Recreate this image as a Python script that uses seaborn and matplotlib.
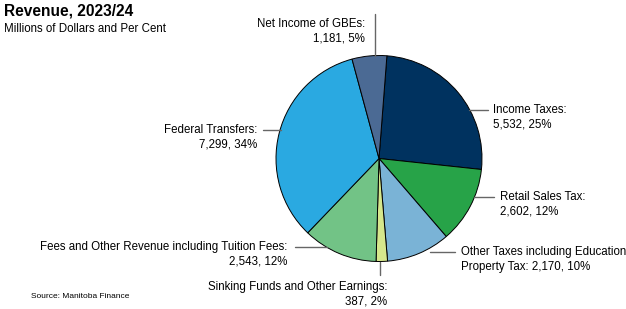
import matplotlib
matplotlib.use("Agg")
import matplotlib.pyplot as plt
import seaborn as sns
import numpy as np

categories = ["Income Taxes", "Retail Sales Tax", "Other Taxes including Education Property Tax",
              "Sinking Funds and Other Earnings", "Fees and Other Revenue including Tuition Fees",
              "Federal Transfers", "Net Income of GBEs"]
values = [5532, 2602, 2170, 387, 2543, 7299, 1181]
percents = [25, 12, 10, 2, 12, 34, 5]
label_texts = ["Income Taxes:\n5,532, 25%",
               "Retail Sales Tax:\n2,602, 12%",
               "Other Taxes including Education\nProperty Tax: 2,170, 10%",
               "Sinking Funds and Other Earnings:\n387, 2%",
               "Fees and Other Revenue including Tuition Fees:\n2,543, 12%",
               "Federal Transfers:\n7,299, 34%",
               "Net Income of GBEs:\n1,181, 5%"]
colors = ["#00325f", "#27a348", "#7ab3d6", "#d6e78c", "#72c386", "#2aa9e1", "#4b6a94"]

sns.set_theme(style="white")
plt.rcParams['font.family'] = ['Liberation Sans', 'DejaVu Sans']
plt.rcParams['text.color'] = 'black'

W, H = 626, 309
fig = plt.figure(figsize=(W / 100, H / 100), dpi=100)
ax = fig.add_axes([0, 0, 1, 1])

cx, cy, R = 379, 158.5, 103
def Y(y):
    return H - y

ax.pie(values, center=(cx, Y(cy)), radius=R, startangle=90 - 4.4, counterclock=False,
       colors=colors, wedgeprops=dict(edgecolor="black", linewidth=0.7))
ax.set_xlim(0, W)
ax.set_ylim(0, H)
ax.set_aspect('equal')
ax.axis('off')

lc = "#666666"
def edge_x(y, side):
    dy = cy - y
    return cx + side * np.sqrt(R ** 2 - dy ** 2)

fs = 8.3
ls = 1.3
tc = "black"
# Income Taxes
y = 110
ax.plot([edge_x(y, 1) - 1, 488], [Y(y), Y(y)], color=lc, lw=1)
ax.text(493, Y(y) + 6, label_texts[0], ha="left", va="top", fontsize=fs, linespacing=ls, color=tc)
# Retail Sales Tax
y = 197
ax.plot([edge_x(y, 1) - 1, 494], [Y(y), Y(y)], color=lc, lw=1)
ax.text(500, Y(y) + 6, label_texts[1], ha="left", va="top", fontsize=fs, linespacing=ls, color=tc)
# Other Taxes
y = 252
ax.plot([430, 455], [Y(y), Y(y)], color=lc, lw=1)
ax.text(461, Y(y) + 6, label_texts[2], ha="left", va="top", fontsize=fs, linespacing=ls, color=tc)
# Sinking Funds
ax.plot([380, 380], [Y(cy + R), Y(275)], color=lc, lw=1)
ax.text(387, Y(281), label_texts[3], ha="right", va="top", fontsize=fs, linespacing=ls,
        multialignment="right", color=tc)
# Fees
y = 247
ax.plot([295, edge_x(y, -1) + 1], [Y(y), Y(y)], color=lc, lw=1)
ax.text(287, Y(y) + 6, label_texts[4], ha="right", va="top", fontsize=fs, linespacing=ls,
        multialignment="right", color=tc)
# Federal Transfers
y = 130
ax.plot([263, edge_x(y, -1) + 1], [Y(y), Y(y)], color=lc, lw=1)
ax.text(257, Y(y) + 6, label_texts[5], ha="right", va="top", fontsize=fs, linespacing=ls,
        multialignment="right", color=tc)
# Net Income of GBEs
ax.plot([375, 375], [Y(14), Y(cy - np.sqrt(R ** 2 - 4 ** 2))], color=lc, lw=1)
ax.text(365, Y(18), label_texts[6], ha="right", va="top", fontsize=fs, linespacing=ls,
        multialignment="right", color=tc)

ax.text(4, Y(3), "Revenue, 2023/24", ha="left", va="top", fontsize=11.2, fontweight="bold", color=tc)
ax.text(4, Y(23), "Millions of Dollars and Per Cent", ha="left", va="top", fontsize=8.3, color=tc)
ax.text(31, Y(293), "Source: Manitoba Finance", ha="left", va="top", fontsize=6, color=tc)

fig.savefig("out.png", dpi=100)
